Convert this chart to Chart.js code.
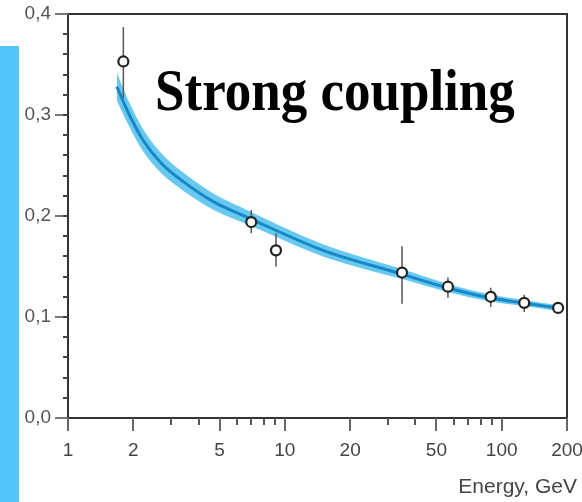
<!DOCTYPE html>
<html>
<head>
<meta charset="utf-8">
<script src="https://cdn.jsdelivr.net/npm/chart.js@4.4.1/dist/chart.umd.min.js"></script>
<style>
  html, body { margin: 0; padding: 0; background: #fff; }
  #wrap { position: relative; width: 582px; height: 502px; overflow: hidden; }
  #side { position: absolute; left: 0; top: 46px; width: 19px; height: 456px; background: #55c6f9; }
  #chart { position: absolute; left: 0; top: 0; }
</style>
</head>
<body>
<div id="wrap">
  <div id="side"></div>
  <canvas id="chart" width="582" height="502"></canvas>
</div>
<script>
// measurements of alpha_s
const energy = [1.8, 7, 9.1, 34.7, 56.5, 89, 127, 182];
const alphaS = [0.353, 0.194, 0.166, 0.144, 0.130, 0.120, 0.114, 0.109];
const errUp = [0.034, 0.012, 0.017, 0.026, 0.009, 0.009, 0.008, 0.004];
const errDown = [0.036, 0.011, 0.016, 0.031, 0.011, 0.010, 0.009, 0.004];

// running coupling curve and its uncertainty band
const fitE = [1.68, 1.9, 2.22, 2.7, 3.4, 4.7, 6.67, 15, 34, 56, 88, 128, 181];
const fitA = [0.328, 0.302, 0.275, 0.252, 0.234, 0.214, 0.199, 0.166, 0.143, 0.129, 0.119, 0.1136, 0.109];
const bandHi = [0.342, 0.314, 0.286, 0.262, 0.243, 0.222, 0.206, 0.172, 0.148, 0.133, 0.1225, 0.1166, 0.112];
const bandLo = [0.314, 0.290, 0.264, 0.242, 0.225, 0.206, 0.192, 0.160, 0.138, 0.125, 0.1155, 0.1106, 0.106];

// axes
const xMajor = [1, 2, 5, 10, 20, 50, 100, 200];
const xMinor = [3, 4, 6, 7, 8, 9, 30, 40, 60, 70, 80, 90];
const yMajor = [0, 0.1, 0.2, 0.3, 0.4];
const yMinorStep = 0.02;

const titleText = 'Strong coupling';
const xTitle = 'Energy, GeV';

const sans = '"Liberation Sans", Arial, sans-serif';

const pts = (xs, ys) => xs.map((v, i) => ({x: v, y: ys[i]}));

const errorBars = {
  id: 'errorBars',
  beforeDatasetDraw(chart, args) {
    if (args.index !== 0) return;
    const {ctx, scales: {x, y}} = chart;
    ctx.save();
    ctx.strokeStyle = '#555';
    ctx.lineWidth = 1.5;
    energy.forEach((e, i) => {
      const px = x.getPixelForValue(e);
      ctx.beginPath();
      ctx.moveTo(px, y.getPixelForValue(alphaS[i] + errUp[i]));
      ctx.lineTo(px, y.getPixelForValue(alphaS[i] - errDown[i]));
      ctx.stroke();
    });
    ctx.restore();
  }
};

const frame = {
  id: 'frame',
  afterDraw(chart) {
    const {ctx, chartArea: a, scales: {x, y}} = chart;
    ctx.save();
    ctx.strokeStyle = '#333';
    ctx.lineWidth = 2;
    ctx.strokeRect(a.left, a.top, a.right - a.left, a.bottom - a.top);

    const tick = (x0, y0, x1, y1, col) => {
      ctx.strokeStyle = col;
      ctx.beginPath();
      ctx.moveTo(x0, y0);
      ctx.lineTo(x1, y1);
      ctx.stroke();
    };
    ctx.lineWidth = 2;
    xMajor.forEach(v => {
      const px = Math.round(x.getPixelForValue(v));
      tick(px, a.bottom, px, a.bottom + 13, '#666');
    });
    xMinor.forEach(v => {
      const px = Math.round(x.getPixelForValue(v));
      tick(px, a.bottom, px, a.bottom + 7, '#555');
    });
    yMajor.forEach(v => {
      const py = Math.round(y.getPixelForValue(v));
      tick(a.left - 13, py, a.left, py, '#777');
    });
    for (let v = yMinorStep; v < 0.4; v += yMinorStep) {
      const py = Math.round(y.getPixelForValue(v));
      tick(a.left - 5, py, a.left, py, '#444');
    }

    // title, a little taller than the font's own proportions
    ctx.fillStyle = '#000';
    ctx.font = 'bold 53px "Liberation Serif", "Times New Roman", serif';
    ctx.textAlign = 'left';
    ctx.textBaseline = 'alphabetic';
    ctx.save();
    ctx.translate(155, 110);
    ctx.scale(1, 1.12);
    ctx.fillText(titleText, 0, 0);
    ctx.restore();

    ctx.fillStyle = '#444';
    ctx.font = '21px ' + sans;
    ctx.textAlign = 'right';
    ctx.fillText(xTitle, 577, 493);
    ctx.restore();
  }
};

new Chart(document.getElementById('chart'), {
  type: 'scatter',
  data: {
    datasets: [{
      data: pts(energy, alphaS),
      pointRadius: 5,
      pointBorderWidth: 2.2,
      pointBackgroundColor: '#fff',
      pointBorderColor: '#222',
      showLine: false,
      order: 0
    }, {
      type: 'line',
      data: pts(fitE, fitA),
      borderColor: '#1688c6',
      borderWidth: 3,
      pointRadius: 0,
      cubicInterpolationMode: 'monotone',
      fill: false,
      order: 1
    }, {
      type: 'line',
      data: pts(fitE, bandHi),
      borderWidth: 0,
      pointRadius: 0,
      cubicInterpolationMode: 'monotone',
      fill: false,
      order: 2
    }, {
      type: 'line',
      data: pts(fitE, bandLo),
      borderWidth: 0,
      pointRadius: 0,
      cubicInterpolationMode: 'monotone',
      backgroundColor: 'rgba(78, 190, 236, 0.85)',
      fill: '-1',
      order: 3
    }]
  },
  options: {
    responsive: false,
    animation: false,
    events: [],
    layout: { padding: { left: 0, top: 14, right: 15, bottom: 0 } },
    plugins: { legend: { display: false }, tooltip: { enabled: false } },
    scales: {
      x: {
        type: 'logarithmic',
        min: 1,
        max: 200,
        grid: { display: false, drawTicks: false },
        border: { display: false },
        afterBuildTicks: s => { s.ticks = xMajor.map(v => ({value: v})); },
        afterFit: s => { s.height = 84; s.paddingLeft = 0; s.paddingRight = 0; },
        ticks: {
          autoSkip: false,
          maxRotation: 0,
          padding: 21,
          color: '#444',
          font: { family: sans, size: 19 },
          callback: v => String(v)
        }
      },
      y: {
        min: 0,
        max: 0.4,
        grid: { display: false, drawTicks: false },
        border: { display: false },
        afterBuildTicks: s => { s.ticks = yMajor.map(v => ({value: v})); },
        afterFit: s => { s.width = 68; s.paddingTop = 0; s.paddingBottom = 0; },
        ticks: {
          padding: 17,
          color: '#555',
          font: { family: sans, size: 19 },
          callback: v => v.toFixed(1).replace('.', ',')
        }
      }
    }
  },
  plugins: [errorBars, frame]
});
</script>
</body>
</html>
